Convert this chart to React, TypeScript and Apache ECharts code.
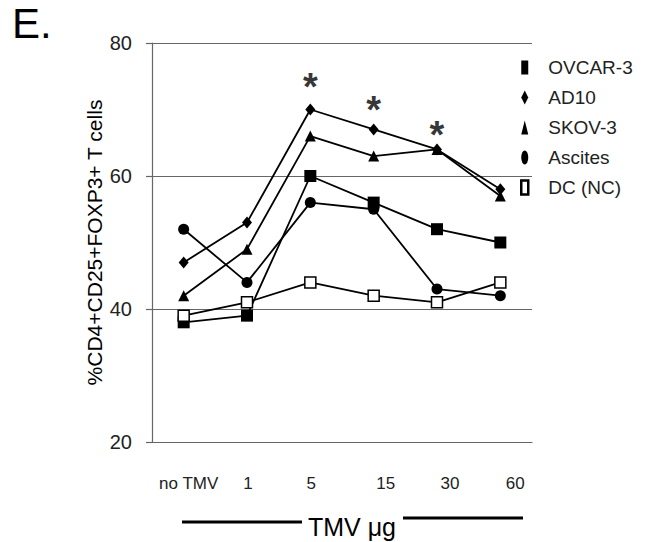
import React, { useEffect, useRef } from "react";
import * as echarts from "echarts";

const categories = ["no TMV", "1", "5", "15", "30", "60"];
const ovcar3 = [38, 39, 60, 56, 52, 50];
const ad10 = [47, 53, 70, 67, 64, 58];
const skov3 = [42, 49, 66, 63, 64, 57];
const ascites = [52, 44, 56, 55, 43, 42];
const dcNC = [39, 41, 44, 42, 41, 44];
const starCats = ["5", "15", "30"];
const starValues = [73.4, 69.9, 66.2];
const yTicks = [20, 40, 60, 80];

const FONT = "Liberation Sans, Arial, sans-serif";
const ELLIPSE = "path://M0,10 A5,10 0 1,0 10,10 A5,10 0 1,0 0,10 Z";

export default function App() {
  const ref = useRef<HTMLDivElement>(null);
  useEffect(() => {
    document.body.style.margin = "0";
    if (!ref.current) return;
    const chart = echarts.init(ref.current, undefined, { renderer: "svg" });
    const lineSeries = (name: string, data: number[], symbol: string, size: number | number[], empty = false) => ({
      name,
      type: "line",
      data,
      symbol,
      symbolSize: size,
      showAllSymbol: true,
      lineStyle: { color: "#000", width: 1.8 },
      itemStyle: empty
        ? { color: "#fff", borderColor: "#000", borderWidth: 1.5 }
        : { color: "#000", borderColor: "#000", borderWidth: 0 },
      z: 3,
    });
    const labelPad = [10, 2, 2, 24, 26, 30];
    chart.setOption({
      animation: false,
      textStyle: { fontFamily: FONT },
      title: {
        text: "E.",
        left: 7,
        top: -3,
        textStyle: { fontFamily: FONT, fontSize: 42, fontWeight: "normal", color: "#000" },
      },
      grid: { left: 152, right: 120, top: 43, bottom: 100, containLabel: false },
      xAxis: {
        type: "category",
        data: categories.map((c, i) => ({
          value: c,
          textStyle: { padding: [0, 0, 0, labelPad[i]] },
        })),
        boundaryGap: true,
        axisLine: { show: true, lineStyle: { color: "#666", width: 1.2 } },
        axisTick: { show: false },
        axisLabel: { margin: 33, fontSize: 17, color: "#222", fontFamily: FONT, interval: 0 },
        splitLine: { show: false },
      },
      yAxis: {
        type: "value",
        min: 20,
        max: 80,
        interval: 20,
        name: "%CD4+CD25+FOXP3+ T cells",
        nameLocation: "middle",
        nameGap: 47,
        nameMoveOverlap: false,
        nameTextStyle: { fontSize: 21, color: "#000", fontFamily: FONT },
        axisLine: { show: true, lineStyle: { color: "#666", width: 1.2 } },
        axisTick: { show: true, length: 6, lineStyle: { color: "#666", width: 1.2 } },
        axisLabel: {
          fontSize: 20,
          color: "#222",
          margin: 20,
          fontFamily: FONT,
          formatter: (v: number) => (yTicks.includes(v) ? String(v) : ""),
        },
        splitLine: { show: true, lineStyle: { color: "#666", width: 1.2 } },
      },
      legend: {
        orient: "vertical",
        left: 515,
        top: 53,
        itemWidth: 7,
        itemHeight: 14,
        itemGap: 11,
        symbolKeepAspect: false,
        textStyle: { fontSize: 19, color: "#222", fontFamily: FONT, padding: [0, 0, 0, 15] },
        data: [
          { name: "OVCAR-3", icon: "rect" },
          { name: "AD10", icon: "diamond" },
          { name: "SKOV-3", icon: "triangle" },
          { name: "Ascites", icon: ELLIPSE },
          { name: "DC (NC)", icon: "rect", itemStyle: { color: "#fff", borderColor: "#000", borderWidth: 2.5 } },
        ],
      },
      series: [
        lineSeries("OVCAR-3", ovcar3, "rect", 12),
        lineSeries("AD10", ad10, "diamond", [10, 12]),
        lineSeries("SKOV-3", skov3, "triangle", 11),
        lineSeries("Ascites", ascites, "circle", 11),
        lineSeries("DC (NC)", dcNC, "rect", 11, true),
        {
          type: "scatter",
          data: starCats.map((c, i) => [c, starValues[i]]),
          symbolSize: 0,
          silent: true,
          label: {
            show: true,
            position: "inside",
            formatter: "*",
            fontSize: 38,
            fontWeight: "bold",
            color: "#000",
            fontFamily: FONT,
          },
          z: 5,
        },
      ],
      graphic: [
        { type: "line", shape: { x1: 182, y1: 522, x2: 302, y2: 522 }, style: { stroke: "#000", lineWidth: 3 } },
        { type: "line", shape: { x1: 403, y1: 518, x2: 523, y2: 518 }, style: { stroke: "#000", lineWidth: 3 } },
        {
          type: "text",
          x: 352,
          y: 527,
          style: {
            text: "TMV μg",
            fontSize: 25,
            fill: "#000",
            fontFamily: FONT,
            align: "center",
            verticalAlign: "middle",
          },
        },
      ],
    });
    return () => chart.dispose();
  }, []);
  return <div ref={ref} style={{ width: 652, height: 542 }} />;
}
